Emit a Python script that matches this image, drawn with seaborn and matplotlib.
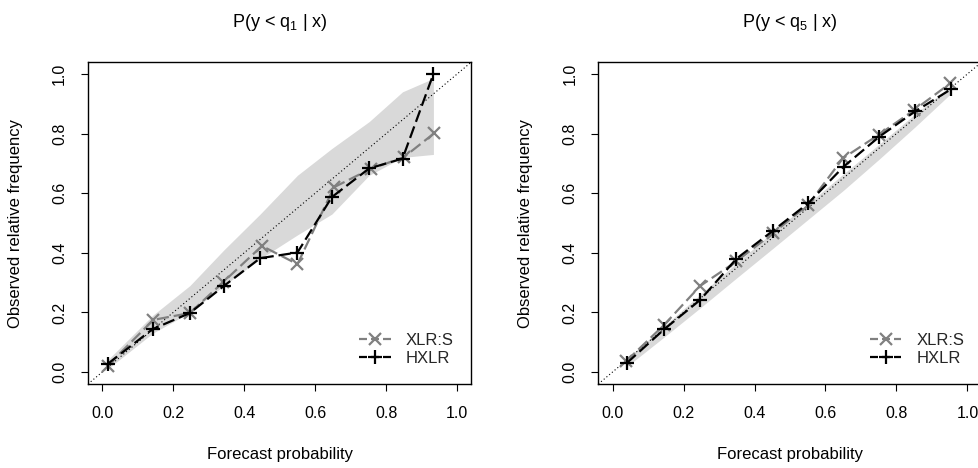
import numpy as np
import pandas as pd
import seaborn as sns
import matplotlib
matplotlib.use("Agg")
import matplotlib.pyplot as plt

# ---------------- data ----------------
# Left panel: P(y < q1 | x)
q1_x_hxlr = [0.015, 0.142, 0.247, 0.343, 0.445, 0.550, 0.647, 0.752, 0.846, 0.933]
q1_y_hxlr = [0.027, 0.144, 0.198, 0.289, 0.382, 0.401, 0.587, 0.683, 0.716, 1.000]
q1_x_xlrs = [0.015, 0.144, 0.247, 0.341, 0.450, 0.550, 0.653, 0.757, 0.849, 0.935]
q1_y_xlrs = [0.021, 0.175, 0.198, 0.302, 0.423, 0.362, 0.620, 0.682, 0.720, 0.801]
q1_band_lo = [0.010, 0.130, 0.200, 0.290, 0.380, 0.460, 0.530, 0.660, 0.720, 0.730]
q1_band_hi = [0.040, 0.190, 0.290, 0.410, 0.530, 0.660, 0.750, 0.840, 0.940, 0.985]

# Right panel: P(y < q5 | x)
q5_x_hxlr = [0.040, 0.146, 0.247, 0.349, 0.452, 0.551, 0.651, 0.752, 0.852, 0.954]
q5_y_hxlr = [0.030, 0.144, 0.242, 0.380, 0.474, 0.566, 0.689, 0.790, 0.874, 0.949]
q5_x_xlrs = [0.038, 0.146, 0.247, 0.349, 0.452, 0.551, 0.649, 0.750, 0.850, 0.952]
q5_y_xlrs = [0.036, 0.159, 0.289, 0.371, 0.466, 0.561, 0.717, 0.796, 0.879, 0.969]
q5_band_lo = [0.018, 0.118, 0.215, 0.315, 0.415, 0.512, 0.610, 0.715, 0.822, 0.935]
q5_band_hi = [0.045, 0.155, 0.260, 0.365, 0.470, 0.565, 0.665, 0.765, 0.865, 0.960]

titles = [r"P(y < q$_1$ | x)", r"P(y < q$_5$ | x)"]
labels = ["XLR:S", "HXLR"]
ticks = [0.0, 0.2, 0.4, 0.6, 0.8, 1.0]
tick_labels = [f"{t:.1f}" for t in ticks]

# ---------------- style ----------------
sns.set_theme(style="white")
plt.rcParams["font.family"] = ["Liberation Sans", "DejaVu Sans"]
plt.rcParams["mathtext.fontset"] = "custom"
plt.rcParams["mathtext.rm"] = "Liberation Sans"
plt.rcParams["mathtext.it"] = "Liberation Sans"
plt.rcParams["mathtext.default"] = "regular"

W, H = 979, 468
fig = plt.figure(figsize=(W / 100, H / 100), dpi=100)
fig.patch.set_facecolor("white")

box_w, box_h = 383.4, 322
ax1 = fig.add_axes([88 / W, 84 / H, box_w / W, box_h / H])
ax2 = fig.add_axes([598.3 / W, 84 / H, box_w / W, box_h / H])

panels = [
    (ax1, q1_x_xlrs, q1_y_xlrs, q1_x_hxlr, q1_y_hxlr, q1_band_lo, q1_band_hi, titles[0]),
    (ax2, q5_x_xlrs, q5_y_xlrs, q5_x_hxlr, q5_y_hxlr, q5_band_lo, q5_band_hi, titles[1]),
]

grey = "#808080"
dash = (0, (5.5, 2.2))
for ax, xs, ys, xh, yh, blo, bhi, title in panels:
    ax.set_facecolor("white")
    ax.fill_between(xh, blo, bhi, color="#d9d9d9", lw=0, zorder=1)
    ax.axline((0, 0), (1, 1), color="black", lw=0.8, ls=(0, (1, 2.2)), zorder=2)
    df_s = pd.DataFrame({"x": xs, "y": ys})
    df_h = pd.DataFrame({"x": xh, "y": yh})
    sns.lineplot(data=df_s, x="x", y="y", ax=ax, color=grey, lw=1.6,
                 linestyle=dash, marker="x", markersize=8,
                 markeredgewidth=1.6, markeredgecolor=grey, label=labels[0],
                 sort=False, errorbar=None, zorder=3)
    sns.lineplot(data=df_h, x="x", y="y", ax=ax, color="black", lw=1.6,
                 linestyle=dash, marker="+", markersize=10,
                 markeredgewidth=1.6, markeredgecolor="black", label=labels[1],
                 sort=False, errorbar=None, zorder=4)

    ax.set_xlim(-0.04, 1.04)
    ax.set_ylim(-0.04, 1.04)
    ax.set_xticks(ticks)
    ax.set_xticklabels(tick_labels)
    ax.set_yticks(ticks)
    ax.set_yticklabels(tick_labels, rotation=90, va="center", ha="right")
    ax.tick_params(axis="both", direction="out", length=5, width=0.8,
                   color="black", labelsize=11.5, labelcolor="black",
                   bottom=True, left=True)
    ax.tick_params(axis="x", pad=11)
    ax.tick_params(axis="y", pad=10)
    for sp in ax.spines.values():
        sp.set_visible(True)
        sp.set_color("black")
        sp.set_linewidth(1.0)
    ax.grid(False)

    ax.set_xlabel("Forecast probability", fontsize=12, color="black")
    ax.xaxis.set_label_coords(0.5, -0.195)
    ax.set_ylabel("Observed relative frequency", fontsize=12, color="black")
    ax.yaxis.set_label_coords(-0.17, 0.5)
    ax.set_title(title, fontsize=13, color="black", pad=25)

    leg = ax.legend(loc="lower right", bbox_to_anchor=(0.985, 0.02),
                    frameon=False, fontsize=12, handlelength=1.9,
                    handletextpad=0.9, labelspacing=0.2, borderaxespad=0.3)
    for ln in leg.get_lines():
        ln.set_linestyle((0, (3.6, 1.8)))

fig.savefig("out.png", dpi=100, facecolor="white")
